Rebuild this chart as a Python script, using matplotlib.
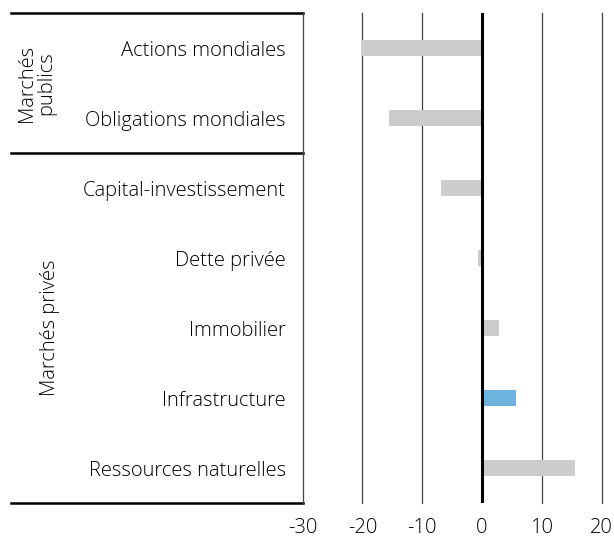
import matplotlib.pyplot as plt
import numpy as np

plt.rcParams['font.family'] = ['Open Sans', 'DejaVu Sans']

categories = ["Actions mondiales", "Obligations mondiales", "Capital-investissement",
              "Dette privée", "Immobilier", "Infrastructure", "Ressources naturelles"]
values = [-20.2, -15.5, -6.9, -0.6, 2.9, 5.7, 15.6]
highlight = "Infrastructure"
groups = [("Marchés\npublics", 0, 1), ("Marchés privés", 2, 6)]
xticks = [-30, -20, -10, 0, 10, 20]

fig = plt.figure(figsize=(6.14, 5.37), dpi=100)
ax = fig.add_axes([302.5 / 614, 1 - 503 / 537, 299.2 / 614, 490 / 537])

y = np.arange(len(categories))
colors = ['#6CB4DE' if c == highlight else '#CCCCCC' for c in categories]
ax.barh(y, values, height=0.23, color=colors, zorder=2)

ax.set_xlim(-30, 20)
ax.set_ylim(len(categories) - 0.5, -0.5)
ax.set_xticks(xticks)
ax.set_xticklabels([str(t) for t in xticks])
ax.set_yticks(y)
ax.set_yticklabels(categories)
ax.tick_params(axis='both', length=0, labelsize=14.5, colors='black')
ax.tick_params(axis='x', pad=11)
ax.tick_params(axis='y', pad=12)
for lab in ax.get_xticklabels() + ax.get_yticklabels():
    lab.set_fontweight('light')

for t in xticks[1:]:
    if t == 0:
        ax.axvline(t, color='black', lw=2.2, zorder=3)
    else:
        ax.axvline(t, color='#444444', lw=0.9, zorder=1, clip_on=False)

for s in ['top', 'right', 'bottom']:
    ax.spines[s].set_visible(False)
ax.spines['left'].set_color('#444444')
ax.spines['left'].set_linewidth(0.9)

# group bracket lines on the left
x0 = (11 - 302.5) / 299.2
for yy in [-0.5, 1.5, len(categories) - 0.5]:
    ax.plot([x0, 0], [yy, yy], color='black', lw=1.8, clip_on=False,
            transform=ax.get_yaxis_transform())

group_x = [37 / 614, 50 / 614]
for (name, a, b), gx in zip(groups, group_x):
    ymid = (a + b) / 2
    yfig = fig.transFigure.inverted().transform(ax.transData.transform((0, ymid)))[1]
    fig.text(gx, yfig, name, rotation=90, ha='center', va='center',
             fontsize=14.5, fontweight='light', color='black',
             multialignment='center', linespacing=0.95)

fig.savefig('out.png', dpi=100)
